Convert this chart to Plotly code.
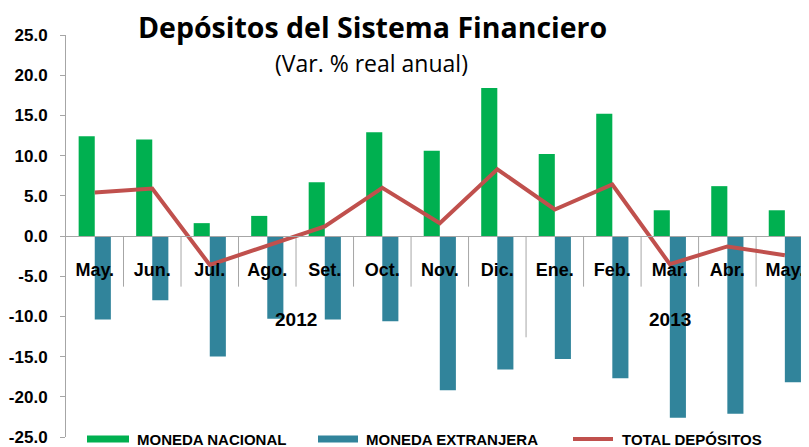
import plotly.graph_objects as go

months = ["May.", "Jun.", "Jul.", "Ago.", "Set.", "Oct.", "Nov.", "Dic.",
          "Ene.", "Feb.", "Mar.", "Abr.", "May."]
years = ["2012"] * 8 + ["2013"] * 5
moneda_nacional = [12.4, 12.0, 1.6, 2.5, 6.7, 12.9, 10.6, 18.4, 10.2, 15.2, 3.2, 6.2, 3.2]
moneda_extranjera = [-10.4, -8.0, -15.0, -10.3, -10.4, -10.6, -19.2, -16.6, -15.3, -17.7, -22.6, -22.1, -18.2]
total_depositos = [5.4, 5.9, -3.6, -1.2, 1.2, 6.0, 1.6, 8.3, 3.3, 6.4, -3.5, -1.3, -2.4]
y_ticks = [-25, -20, -15, -10, -5, 0, 5, 10, 15, 20, 25]

series_names = ["MONEDA NACIONAL", "MONEDA EXTRANJERA", "TOTAL DEPÓSITOS"]

# page is 809x447; the figure div sits 8px in from the page corner (body margin)
OFF = 8
W, H = 809 - OFF, 447 - OFF
L, R, T, B = 66 - OFF, 0, 35 - OFF, 10

GREEN = "#00B050"
BLUE = "#31849B"
RED = "#C0504D"
GRAY = "#A6A6A6"
FAM = "Liberation Sans, Arial, sans-serif"

idx = list(range(len(months)))

fig = go.Figure()
fig.add_trace(go.Bar(x=idx, y=moneda_nacional, name=series_names[0], marker_color=GREEN,
                     marker_line_width=0))
fig.add_trace(go.Bar(x=idx, y=moneda_extranjera, name=series_names[1], marker_color=BLUE,
                     marker_line_width=0))
fig.add_trace(go.Scatter(x=idx, y=total_depositos, name=series_names[2], mode="lines",
                         line=dict(color=RED, width=4)))


def px_x(px):
    return (px - OFF - L) / (W - L - R)


def px_y(py):
    return (H - B - (py - OFF)) / (H - T - B)


annotations = []
shapes = []

# category separators below the zero line (longer at the year boundary)
year_starts = set()
s = 0
for yr in dict.fromkeys(years):
    year_starts.add(s)
    s += years.count(yr)
for i in idx[1:]:
    shapes.append(dict(type="line", xref="x", yref="y", x0=i - 0.5, x1=i - 0.5,
                       y0=0, y1=-12.6 if i in year_starts else -6.3,
                       line=dict(color=GRAY, width=1), layer="below"))

start = 0
for yr in dict.fromkeys(years):
    n = years.count(yr)
    center = start + (n - 1) / 2
    annotations.append(dict(x=center, y=-10.4, xref="x", yref="y", text="<b>%s</b>" % yr,
                            showarrow=False, font=dict(family=FAM, size=19, color="black"),
                            xanchor="center", yanchor="middle"))
    start += n

# custom legend
legend_items = [
    (series_names[0], GREEN, "bar", 87, 129, 135),
    (series_names[1], BLUE, "bar", 318, 358, 364),
    (series_names[2], RED, "line", 573, 613, 620),
]
ly = 439
for name, col, kind, x0, x1, tx in legend_items:
    if kind == "bar":
        shapes.append(dict(type="rect", xref="paper", yref="paper", x0=px_x(x0), x1=px_x(x1),
                           y0=px_y(ly + 3.5), y1=px_y(ly - 3.5), line=dict(width=0), fillcolor=col))
    else:
        shapes.append(dict(type="line", xref="paper", yref="paper", x0=px_x(x0), x1=px_x(x1),
                           y0=px_y(ly), y1=px_y(ly), line=dict(color=col, width=4)))
    annotations.append(dict(x=px_x(tx), y=px_y(ly + 1), xref="paper", yref="paper",
                            text="<b>%s</b>" % name, showarrow=False, xanchor="left", yanchor="middle",
                            font=dict(family=FAM, size=15, color="black")))

# title and subtitle
annotations.append(dict(x=px_x(372), y=px_y(27), xref="paper", yref="paper",
                        text="<b>Depósitos del Sistema Financiero</b>", showarrow=False,
                        xanchor="center", yanchor="middle",
                        font=dict(family="Open Sans, sans-serif", size=28.5, color="black")))
annotations.append(dict(x=px_x(371), y=px_y(63), xref="paper", yref="paper",
                        text="(Var. % real anual)", showarrow=False,
                        xanchor="center", yanchor="middle",
                        font=dict(family="Open Sans, sans-serif", size=23, color="black")))

fig.update_layout(
    width=W, height=H,
    margin=dict(l=L, r=R, t=T, b=B, pad=0),
    paper_bgcolor="white", plot_bgcolor="white",
    barmode="group", bargap=0.44, bargroupgap=0,
    showlegend=False,
    annotations=annotations,
    shapes=shapes,
    xaxis=dict(
        range=[-0.5, 12.42],
        tickmode="array", tickvals=idx, ticktext=["<b>%s</b>" % m for m in months],
        tickfont=dict(family=FAM, size=18, color="black"),
        anchor="free", position=0.5,
        showline=True, linecolor=GRAY, linewidth=1,
        showgrid=False, zeroline=False,
        ticks="outside", ticklen=51, tickcolor="rgba(0,0,0,0)", tickwidth=1,
        ticklabelstandoff=-34,
    ),
    yaxis=dict(
        range=[-25, 25],
        tickmode="array", tickvals=y_ticks, ticktext=["<b>%.1f</b>" % v for v in y_ticks],
        tickfont=dict(family=FAM, size=17, color="black"),
        showline=True, linecolor=GRAY, linewidth=1,
        showgrid=False, zeroline=False,
        ticks="outside", ticklen=5, tickcolor=GRAY,
        ticklabelstandoff=9,
    ),
)

fig.write_html("out.html")
